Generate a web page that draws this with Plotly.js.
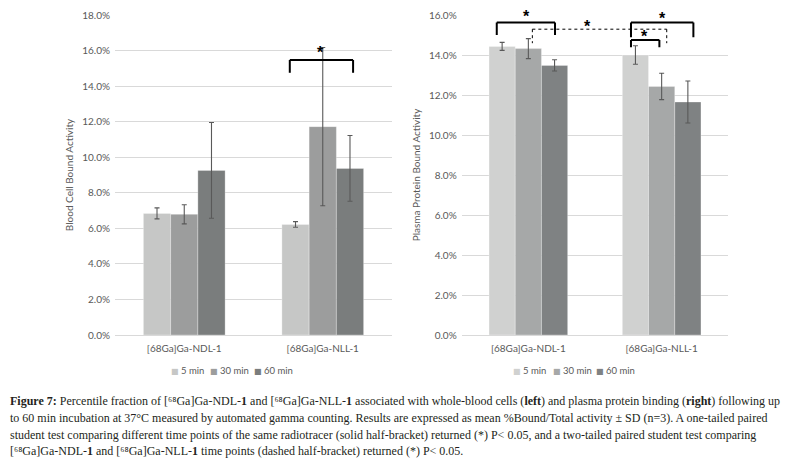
<!DOCTYPE html>
<html>
<head>
<meta charset="utf-8">
<script src="https://cdn.plot.ly/plotly-3.0.1.min.js"></script>
<style>
html,body{margin:0;padding:0;background:#fff;}
#chart{width:786px;height:462px;}
</style>
</head>
<body>
<div id="chart"></div>
<script>
// ---- data ----
const categories = ['[68Ga]Ga-NDL-1', '[68Ga]Ga-NLL-1'];
const seriesNames = ['5 min', '30 min', '60 min'];

// Blood cell bound activity (%), left panel
const blood5 = [6.84, 6.22];
const blood30 = [6.79, 11.72];
const blood60 = [9.26, 9.37];
const bloodSd5 = [0.31, 0.16];
const bloodSd30 = [0.54, 4.45];
const bloodSd60 = [2.69, 1.85];

// Plasma protein bound activity (%), right panel
const plasma5 = [14.43, 14.00];
const plasma30 = [14.32, 12.43];
const plasma60 = [13.48, 11.65];
const plasmaSd5 = [0.20, 0.46];
const plasmaSd30 = [0.50, 0.66];
const plasmaSd60 = [0.28, 1.05];

const captionLines = [
  '<b>Figure 7:</b> Percentile fraction of [⁶⁸Ga]Ga-NDL-<b>1</b> and [⁶⁸Ga]Ga-NLL-<b>1</b> associated with whole-blood cells (<b>left</b>) and plasma protein binding (<b>right</b>) following up',
  'to 60 min incubation at 37°C measured by automated gamma counting. Results are expressed as mean %Bound/Total activity ± SD (n=3). A one-tailed paired',
  'student test comparing different time points of the same radiotracer (solid half-bracket) returned (*) P&lt; 0.05, and a two-tailed paired student test comparing',
  '[⁶⁸Ga]Ga-NDL-<b>1</b> and [⁶⁸Ga]Ga-NLL-<b>1</b> time points (dashed half-bracket) returned (*) P&lt; 0.05.'
];

// ---- significance brackets (category-index x, percent y) ----
const bracketsLeft = [
  {x0: 0.762, x1: 1.219, top: 15.47, end: 14.75, dash: 'solid', star: [0.986, 16.14]}
];
const bracketsRight = [
  {x0: -0.237, x1: 0.200, top: 15.62, end: 15.00, dash: 'solid', star: [-0.017, 16.12]},
  {x0: 0.030, x1: 1.038, top: 15.29, end: 14.59, dash: 'dot', star: [0.443, 15.64]},
  {x0: 0.770, x1: 1.238, top: 15.62, end: 14.89, dash: 'solid', star: [1.008, 16.03]},
  {x0: 0.770, x1: 0.983, top: 14.75, end: 14.39, dash: 'solid', star: [0.870, 15.14]}
];

// ---- styles ----
const leftColors = ['#c6c7c6', '#9c9d9d', '#7a7d7d'];
const rightColors = ['#d0d1d0', '#a6a8a8', '#7f8283'];
const grey = '#595959';
const tickFont = {family: 'Lato, "Liberation Sans", sans-serif', size: 10, color: grey};
const legendFont = {family: 'Lato, "Liberation Sans", sans-serif', size: 9.5, color: grey};
const legendLeftX = [169, 207.5, 251.5];
const legendRightX = [511, 551, 593.5];
const legendY = 370;

function bar(name, y, sd, color, xa, ya) {
  return {
    type: 'bar', name: name, x: categories, y: y,
    xaxis: xa, yaxis: ya, showlegend: false,
    marker: {color: color, line: {color: 'rgba(255,255,255,0.5)', width: 0.6}},
    error_y: {type: 'data', array: sd, visible: true, color: grey, thickness: 1.1, width: 2.5},
    hoverinfo: 'skip'
  };
}

const data = [
  bar(seriesNames[0], blood5, bloodSd5, leftColors[0], 'x', 'y'),
  bar(seriesNames[1], blood30, bloodSd30, leftColors[1], 'x', 'y'),
  bar(seriesNames[2], blood60, bloodSd60, leftColors[2], 'x', 'y'),
  bar(seriesNames[0], plasma5, plasmaSd5, rightColors[0], 'x2', 'y2'),
  bar(seriesNames[1], plasma30, plasmaSd30, rightColors[1], 'x2', 'y2'),
  bar(seriesNames[2], plasma60, plasmaSd60, rightColors[2], 'x2', 'y2')
];

const shapes = [];
const annotations = [];
function addBrackets(list, xref, yref, ymax, pxPerUnit) {
  list.forEach(b => {
    const line = {color: '#000', width: b.dash === 'dot' ? 1 : 2, dash: b.dash};
    shapes.push({type: 'line', xref: xref, yref: yref, x0: b.x0, x1: b.x1, y0: b.top, y1: b.top, line: line});
    shapes.push({type: 'line', xref: xref, yref: yref, x0: b.x0, x1: b.x0, y0: b.top, y1: b.end, line: line});
    shapes.push({type: 'line', xref: xref, yref: yref, x0: b.x1, x1: b.x1, y0: b.top, y1: b.end, line: line});
    const sy = Math.min(b.star[1], ymax);
    annotations.push({
      xref: xref, yref: yref, x: b.star[0], y: sy, text: '<b>*</b>', showarrow: false,
      font: {family: '"Liberation Sans", sans-serif', size: 16, color: '#000'},
      xanchor: 'center', yanchor: 'middle', yshift: (b.star[1] - sy) * pxPerUnit - 4
    });
  });
}
addBrackets(bracketsLeft, 'x', 'y', 18, 17.78);
addBrackets(bracketsRight, 'x2', 'y2', 16, 20);

// legends (square marker + series name)
function addLegend(xs, colors) {
  seriesNames.forEach((n, i) => {
    annotations.push({
      xref: 'paper', yref: 'paper', x: xs[i] / 786, y: 1 - legendY / 462,
      xanchor: 'left', yanchor: 'middle', showarrow: false,
      text: '<span style="color:' + colors[i] + ';font-family:DejaVu Sans;font-size:8px">■</span> ' + n,
      font: legendFont
    });
  });
}
addLegend(legendLeftX, leftColors);
addLegend(legendRightX, rightColors);

const capY = [401, 418, 434.5, 451];
captionLines.forEach((t, i) => {
  annotations.push({
    xref: 'paper', yref: 'paper', x: 8 / 786, y: 1 - capY[i] / 462,
    xanchor: 'left', yanchor: 'middle', showarrow: false, align: 'left',
    text: t, font: {family: '"Liberation Serif", serif', size: 12, color: '#231f20'}
  });
});

const yDomain = [(462 - 335) / 462, (462 - 15) / 462];
const titleFont = {family: 'Lato, "Liberation Sans", sans-serif', size: 10, color: grey};

const layout = {
  width: 786, height: 462,
  margin: {l: 0, r: 0, t: 0, b: 0},
  paper_bgcolor: '#fff', plot_bgcolor: '#fff',
  barmode: 'group', bargap: 0.41, bargroupgap: 0,
  showlegend: false,
  xaxis: {domain: [115 / 786, 392 / 786], anchor: 'y', type: 'category',
    showline: true, linecolor: '#d9d9d9', linewidth: 1, ticks: '', showgrid: false,
    tickfont: tickFont, ticklabelstandoff: 4, fixedrange: true},
  yaxis: {domain: yDomain, anchor: 'x', range: [0, 18], dtick: 2, tickformat: '.1f', ticksuffix: '%',
    showline: false, zeroline: false, gridcolor: '#d9d9d9', tickfont: tickFont, ticklabelstandoff: 4,
    fixedrange: true,
    title: {text: 'Blood Cell Bound Activity', font: titleFont, standoff: 6}},
  xaxis2: {domain: [461.7 / 786, 728.3 / 786], anchor: 'y2', type: 'category',
    showline: true, linecolor: '#d9d9d9', linewidth: 1, ticks: '', showgrid: false,
    tickfont: tickFont, ticklabelstandoff: 4, fixedrange: true},
  yaxis2: {domain: yDomain, anchor: 'x2', range: [0, 16], dtick: 2, tickformat: '.1f', ticksuffix: '%',
    showline: false, zeroline: false, gridcolor: '#d9d9d9', tickfont: tickFont, ticklabelstandoff: 4,
    fixedrange: true,
    title: {text: 'Plasma Protein Bound Activity', font: titleFont, standoff: 6}},
  shapes: shapes,
  annotations: annotations
};

Plotly.newPlot('chart', data, layout, {displayModeBar: false, staticPlot: true});
</script>
</body>
</html>
